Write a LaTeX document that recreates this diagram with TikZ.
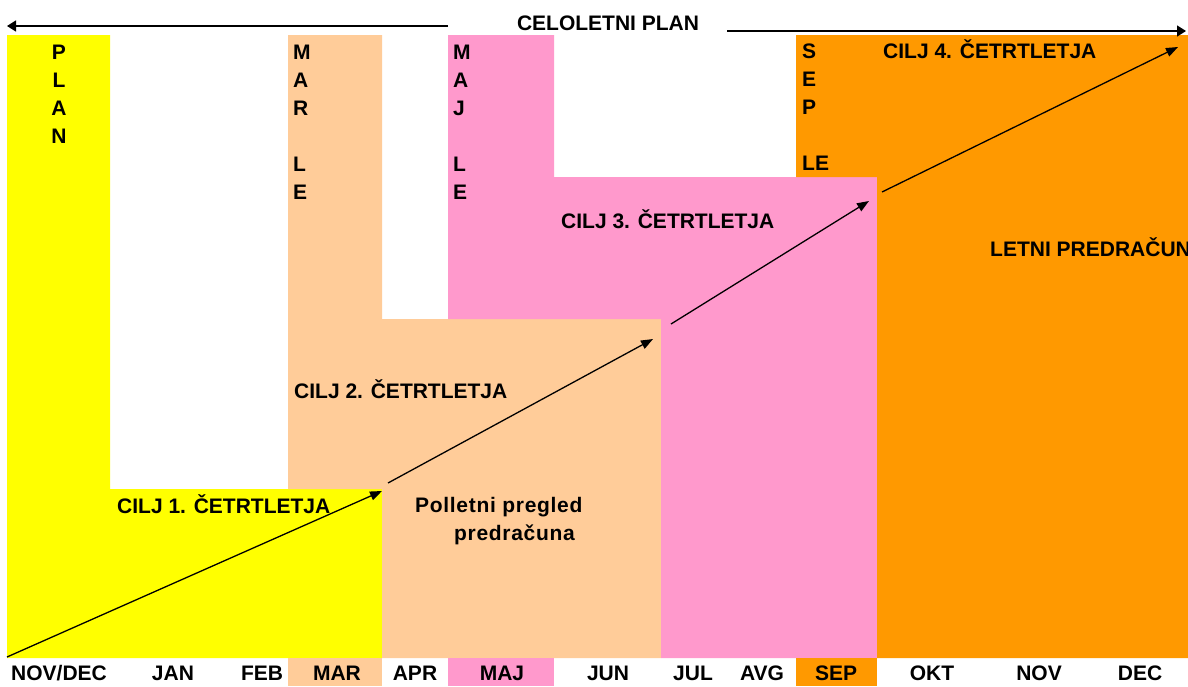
\documentclass[tikz,border=0pt]{standalone}
\usepackage{fontspec}
\setmainfont{Liberation Sans}
\usetikzlibrary{arrows.meta}
\definecolor{cyellow}{HTML}{FFFF00}
\definecolor{cpeach}{HTML}{FFCC99}
\definecolor{cpink}{HTML}{FF99CC}
\definecolor{corange}{HTML}{FF9900}
\tikzset{
  lab/.style={font=\fontsize{21}{25}\selectfont\bfseries, inner sep=0pt},
  vletter/.style={lab, anchor=base west},
  goal/.style={lab, anchor=base west},
  spaced/.style={goal, font=\fontsize{21}{25}\selectfont\bfseries\addfontfeatures{LetterSpace=3.3}},
  month/.style={lab, anchor=base},
  progress/.style={line width=1.3pt, -{Triangle[length=12pt,width=9pt]}},
  span/.style={line width=1.4pt, -{Triangle[length=9pt,width=11pt]}},
}
\begin{document}
\begin{tikzpicture}[x=1pt,y=-1pt]
\clip (0,0) rectangle (1188,686);
\fill[white] (0,0) rectangle (1188,686);
% coloured areas
\fill[cyellow] (7,35) -- (110,35) -- (110,489) -- (382,489) -- (382,658) -- (7,658) -- cycle;
\fill[cpeach] (288,35) -- (382,35) -- (382,319) -- (661,319) -- (661,658) -- (382,658) -- (382,489) -- (288,489) -- cycle;
\fill[cpink] (448,35) -- (554,35) -- (554,177) -- (877,177) -- (877,658) -- (661,658) -- (661,319) -- (448,319) -- cycle;
\fill[corange] (796,35) -- (1188,35) -- (1188,658) -- (877,658) -- (877,177) -- (796,177) -- cycle;
% month cells
\fill[cpeach] (288,658) rectangle (382,686);
\fill[cpink] (448,658) rectangle (554,686);
\fill[corange] (796,658) rectangle (877,686);
% top span
\node[lab, anchor=base] (celo) at (608,30) {CELOLETNI PLAN};
\coordinate (lspanA) at (448,26);
\coordinate (lspanB) at (7,26);
\coordinate (rspanA) at (727,31);
\coordinate (rspanB) at (1186,31);
\draw[span] (lspanA) -- (lspanB);
\draw[span] (rspanA) -- (rspanB);
% vertical labels
\foreach \t [count=\i] in {P,L,A,N}
  \node[lab, anchor=base] (plan\i) at (59,{59+28*(\i-1)}) {\t};
\foreach \t/\r [count=\i] in {M/0,A/1,R/2,L/4,E/5}
  \node[vletter] (mar\i) at (293,{59+28*\r}) {\t};
\foreach \t/\r [count=\i] in {M/0,A/1,J/2,L/4,E/5}
  \node[vletter] (maj\i) at (453,{59+28*\r}) {\t};
\foreach \t/\r [count=\i] in {S/0,E/1,P/2,LE/4}
  \node[vletter] (sep\i) at (802,{58+28*\r}) {\t};
% goals
\node[goal] (g1) at (117,513) {CILJ 1. ČETRTLETJA};
\node[goal] (g2) at (294,398) {CILJ 2. ČETRTLETJA};
\node[goal] (g3) at (561,228) {CILJ 3. ČETRTLETJA};
\node[goal] (g4) at (883,58) {CILJ 4. ČETRTLETJA};
\node[goal] (letni) at (990,256) {LETNI PREDRAČUN};
\node[spaced] (pol1) at (415,512) {Polletni pregled};
\node[spaced] (pol2) at (454,540) {predračuna};
% progress arrows
\coordinate (a1s) at (7,657);
\coordinate (a1e) at (382,491);
\coordinate (a2s) at (388,483);
\coordinate (a2e) at (653,339);
\coordinate (a3s) at (671,324);
\coordinate (a3e) at (869,201);
\coordinate (a4s) at (882,192);
\coordinate (a4e) at (1178,47);
\draw[progress] (a1s) -- (a1e);
\draw[progress] (a2s) -- (a2e);
\draw[progress] (a3s) -- (a3e);
\draw[progress] (a4s) -- (a4e);
% months
\node[month] (m1) at (59,680) {NOV/DEC};
\node[month] (m2) at (173,680) {JAN};
\node[month] (m3) at (262,680) {FEB};
\node[month] (m4) at (337,680) {MAR};
\node[month] (m5) at (415,680) {APR};
\node[month] (m6) at (502,680) {MAJ};
\node[month] (m7) at (608,680) {JUN};
\node[month] (m8) at (693,680) {JUL};
\node[month] (m9) at (762,680) {AVG};
\node[month] (m10) at (836,680) {SEP};
\node[month] (m11) at (932,680) {OKT};
\node[month] (m12) at (1039,680) {NOV};
\node[month] (m13) at (1140,680) {DEC};
\end{tikzpicture}
\end{document}
